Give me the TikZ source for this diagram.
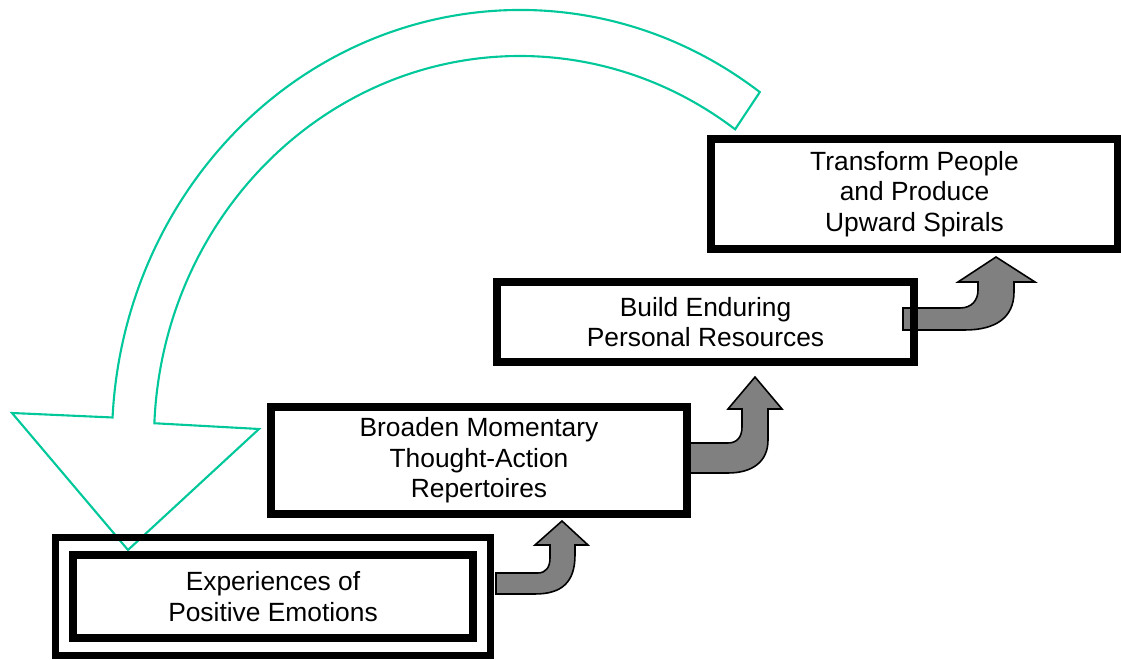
\documentclass[tikz,border=0pt]{standalone}
\usepackage{fontspec}
\setmainfont{Liberation Sans}
\usepackage{xcolor}
\usepackage{tikz}
\usetikzlibrary{calc}
\definecolor{backgreen}{HTML}{00C89A}
\definecolor{liftgray}{HTML}{808080}

\begin{document}
\begin{tikzpicture}[
  stage/.style={draw=black,line width=4.5pt,align=center,inner sep=0pt,
    font=\fontsize{15}{17.3}\selectfont},
  lift/.style={draw=black,line width=0.9pt,fill=liftgray,line join=miter},
  backarc/.style={draw=backgreen,line width=1.2pt,line join=miter}]
\useasboundingbox (0,0) rectangle (22.42,13.2);
\coordinate (hub) at (10.40,4.40);
% big return arrow
\draw[backarc] ($(hub)+(54:8.16 and 8.6)$)
  arc[start angle=54,end angle=177,x radius=8.16,y radius=8.6]
  -- (0.24,4.94) -- (2.56,2.20) -- (5.18,4.62)
  -- ($(hub)+(177.5:7.32 and 7.68)$)
  arc[start angle=177.5,end angle=54,x radius=7.32,y radius=7.68] -- cycle;
% step arrows
\draw[lift] (9.92,1.32) -- (9.92,1.74) -- (10.76,1.74)
  .. controls (10.92,1.74) and (11.0,1.86) .. (11.0,2.04) -- (11.0,2.30)
  -- (10.70,2.30) -- (11.24,2.78) -- (11.76,2.30) -- (11.50,2.30) -- (11.50,2.10)
  .. controls (11.50,1.56) and (11.24,1.32) .. (10.70,1.32) -- cycle;
\draw[lift] (13.74,3.74) -- (13.74,4.34) -- (14.56,4.34)
  .. controls (14.74,4.34) and (14.84,4.46) .. (14.84,4.66) -- (14.84,5.02)
  -- (14.56,5.02) -- (15.10,5.66) -- (15.64,5.02) -- (15.36,5.02) -- (15.36,4.40)
  .. controls (15.36,3.96) and (15.04,3.74) .. (14.56,3.74) -- cycle;
\draw[lift] (18.06,6.60) -- (18.06,7.04) -- (19.20,7.04)
  .. controls (19.44,7.04) and (19.56,7.20) .. (19.56,7.40) -- (19.56,7.56)
  -- (19.16,7.56) -- (19.92,8.06) -- (20.70,7.56) -- (20.28,7.56) -- (20.28,7.36)
  .. controls (20.28,6.84) and (19.90,6.60) .. (19.30,6.60) -- cycle;
% boxes
\node[stage,minimum width=8cm,minimum height=1.66cm] (exp) at (5.46,1.27) {Experiences of\\Positive Emotions};
\node[stage,minimum width=8.7cm,minimum height=2.36cm] (expframe) at (exp) {};
\node[stage,minimum width=8.32cm,minimum height=2.14cm] (broaden) at (9.58,3.99) {Broaden Momentary\\Thought-Action\\Repertoires};
\node[stage,minimum width=8.34cm,minimum height=1.6cm] (build) at (14.11,6.76) {Build Enduring\\Personal Resources};
\node[stage,minimum width=8.14cm,minimum height=2.2cm] (transform) at (18.29,9.32) {Transform People\\and Produce\\Upward Spirals};
\end{tikzpicture}
\end{document}
